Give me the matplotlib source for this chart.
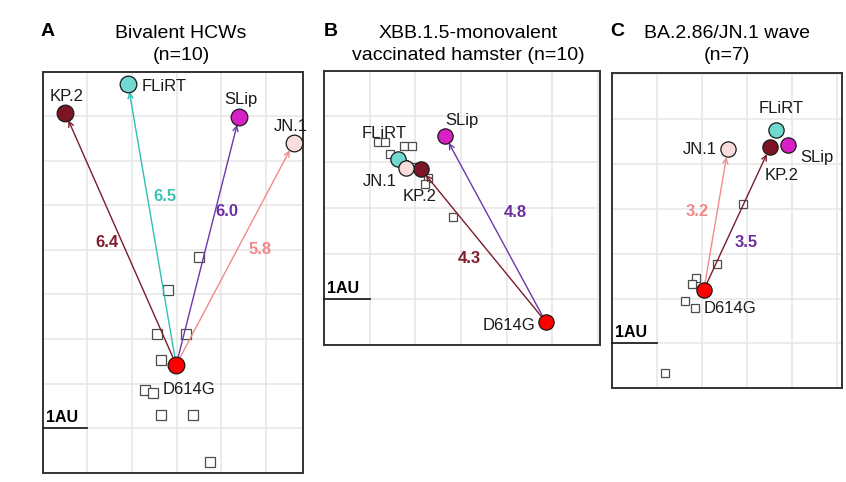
import matplotlib
matplotlib.use('Agg')
import matplotlib.pyplot as plt
import numpy as np

plt.rcParams['font.family'] = ['Liberation Sans', 'DejaVu Sans']

# antigen names (same order in every panel)
antigens = ['D614G', 'KP.2', 'FLiRT', 'SLip', 'JN.1']
antigen_colors = ['#ff0000', '#7c1426', '#72d9d1', '#d91fc6', '#f9dcdc']

# --- panel A: bivalent HCWs (n=10)
a_x = [2.99, 0.50, 1.91, 4.40, 5.62]
a_y = [2.42, 8.08, 8.73, 7.99, 7.40]
a_sera_x = [3.50, 2.81, 2.56, 3.21, 2.66, 2.29, 2.48, 2.65, 3.36, 3.74]
a_sera_y = [4.85, 4.09, 3.12, 3.12, 2.53, 1.86, 1.80, 1.30, 1.30, 0.25]
a_targets = ['KP.2', 'FLiRT', 'SLip', 'JN.1']
a_dist = [6.4, 6.5, 6.0, 5.8]

# --- panel B: XBB.1.5-monovalent vaccinated hamster (n=10)
b_x = [4.85, 2.12, 1.63, 2.65, 1.79]
b_y = [0.51, 3.85, 4.06, 4.57, 3.87]
b_sera_x = [1.19, 1.33, 1.74, 1.92, 1.44, 2.28, 2.21, 2.82, 1.75, 2.00]
b_sera_y = [4.43, 4.43, 4.35, 4.35, 4.18, 3.66, 3.53, 2.79, 3.95, 3.90]
b_targets = ['KP.2', 'SLip']
b_dist = [4.3, 4.8]

# --- panel C: BA.2.86/JN.1 wave (n=7)
c_x = [2.04, 3.51, 3.65, 3.91, 2.57]
c_y = [2.20, 5.37, 5.75, 5.42, 5.32]
c_sera_x = [2.92, 2.33, 1.86, 1.78, 1.62, 1.84, 1.17]
c_sera_y = [4.10, 2.76, 2.45, 2.32, 1.94, 1.78, 0.35]
c_targets = ['JN.1', 'KP.2']
c_dist = [3.2, 3.5]

titles = [['Bivalent HCWs', '(n=10)'],
          ['XBB.1.5-monovalent', 'vaccinated hamster (n=10)'],
          ['BA.2.86/JN.1 wave', '(n=7)']]
letters = ['A', 'B', 'C']

arrow_colors = {'KP.2': '#7b1c2a', 'FLiRT': '#2fc0b3', 'SLip': '#6a38ad', 'JN.1': '#f28a8a'}
dist_colors = {'KP.2': '#7f1d2d', 'FLiRT': '#3cc3b4', 'SLip': '#6b2fa0', 'JN.1': '#f08a8a'}

W, H = 846, 482
fig = plt.figure(figsize=(W / 100, H / 100), dpi=100)


def px_axes(l, t, r, b):
    return fig.add_axes([l / W, 1 - b / H, (r - l) / W, (b - t) / H])


def draw_panel(ax, xlim, ylim, xs, ys, sx, sy, targets, dists, label_off, dist_pos,
               dist_override=None, sq=7.0, circ=11.5):
    ax.set_xlim(0, xlim)
    ax.set_ylim(0, ylim)
    ax.set_xticks([])
    ax.set_yticks([])
    for gx in range(1, int(np.ceil(xlim))):
        ax.axvline(gx, color='#e6e6e6', lw=1.1, zorder=0)
    for gy in range(1, int(np.ceil(ylim))):
        ax.axhline(gy, color='#e6e6e6', lw=1.1, zorder=0)
    for sp in ax.spines.values():
        sp.set_color('#333333')
        sp.set_linewidth(1.4)

    ax.plot(sx, sy, 's', ms=sq, mfc='white', mec='#4d4d4d', mew=0.9, zorder=2)

    x0, y0 = xs[0], ys[0]
    for t, d, (dx, dy) in zip(targets, dists, dist_pos):
        i = antigens.index(t)
        ax.annotate('', xy=(xs[i], ys[i]), xytext=(x0, y0),
                    arrowprops=dict(arrowstyle='->', color=arrow_colors[t], lw=1.0,
                                    shrinkA=0, shrinkB=circ / 2, mutation_scale=9),
                    zorder=3)
        col = dist_colors[t]
        if dist_override and t in dist_override:
            col = dist_override[t]
        ax.text(dx, dy, '%.1f' % d, color=col, fontsize=12, fontweight='bold',
                ha='center', va='center', zorder=4)

    for i, name in enumerate(antigens):
        ax.plot(xs[i], ys[i], 'o', ms=circ, mfc=antigen_colors[i], mec='#1a1a1a',
                mew=0.9, zorder=5)
    for i, name in enumerate(antigens):
        ox, oy, ha = label_off[name]
        ax.annotate(name, (xs[i], ys[i]), xytext=(ox, oy), textcoords='offset points',
                    ha=ha, va='center', fontsize=12, color='#1a1a1a', zorder=6,
                    annotation_clip=False)

    ax.plot([0, 1], [1, 1], color='#222222', lw=1.3, zorder=4, clip_on=False)
    ax.text(0.07, 1.08, '1AU', fontsize=11.5, fontweight='bold', ha='left',
            va='bottom', zorder=4)


axA = px_axes(42.7, 71.7, 303, 472.7)
draw_panel(axA, 5.83, 9.0, a_x, a_y, a_sera_x, a_sera_y, a_targets, a_dist,
           {'D614G': (-9.6, -18, 'left'), 'KP.2': (1.5, 11.5, 'center'),
            'FLiRT': (10, -1.7, 'left'), 'SLip': (1.4, 12.5, 'center'),
            'JN.1': (-2, 12, 'center')},
           [(1.43, 5.17), (2.74, 6.20), (4.12, 5.87), (4.87, 5.00)],
           sq=7.8, circ=12)

axB = px_axes(324, 70.7, 600, 345)
draw_panel(axB, 6.04, 6.0, b_x, b_y, b_sera_x, b_sera_y, b_targets, b_dist,
           {'D614G': (-7.7, -2.4, 'right'), 'KP.2': (-0.7, -20, 'center'),
            'FLiRT': (-10.6, 18.7, 'center'), 'SLip': (12, 11.5, 'center'),
            'JN.1': (-19, -9.6, 'center')},
           [(3.18, 1.90), (4.18, 2.90)],
           sq=5.2, circ=11)

axC = px_axes(612.3, 72.7, 842.3, 388.3)
draw_panel(axC, 5.12, 7.03, c_x, c_y, c_sera_x, c_sera_y, c_targets, c_dist,
           {'D614G': (-0.5, -13.7, 'left'), 'KP.2': (8.4, -20, 'center'),
            'FLiRT': (3.6, 15.6, 'center'), 'SLip': (21, -8.9, 'center'),
            'JN.1': (-7.9, 0, 'right')},
           [(1.90, 3.93), (2.98, 3.24)],
           dist_override={'KP.2': '#6b2fa0'}, sq=5.5, circ=11)

# panel letters and titles
for letter, lx, tx, (l1, l2) in zip(letters, [48, 331, 617], [181, 468, 727], titles):
    fig.text(lx / W, 1 - 31 / H, letter, fontsize=14, fontweight='bold',
             ha='center', va='center')
    fig.text(tx / W, 1 - 33 / H, l1, fontsize=14, ha='center', va='center')
    fig.text(tx / W, 1 - 56 / H, l2, fontsize=14, ha='center', va='center')

fig.savefig('out.png', dpi=100)
